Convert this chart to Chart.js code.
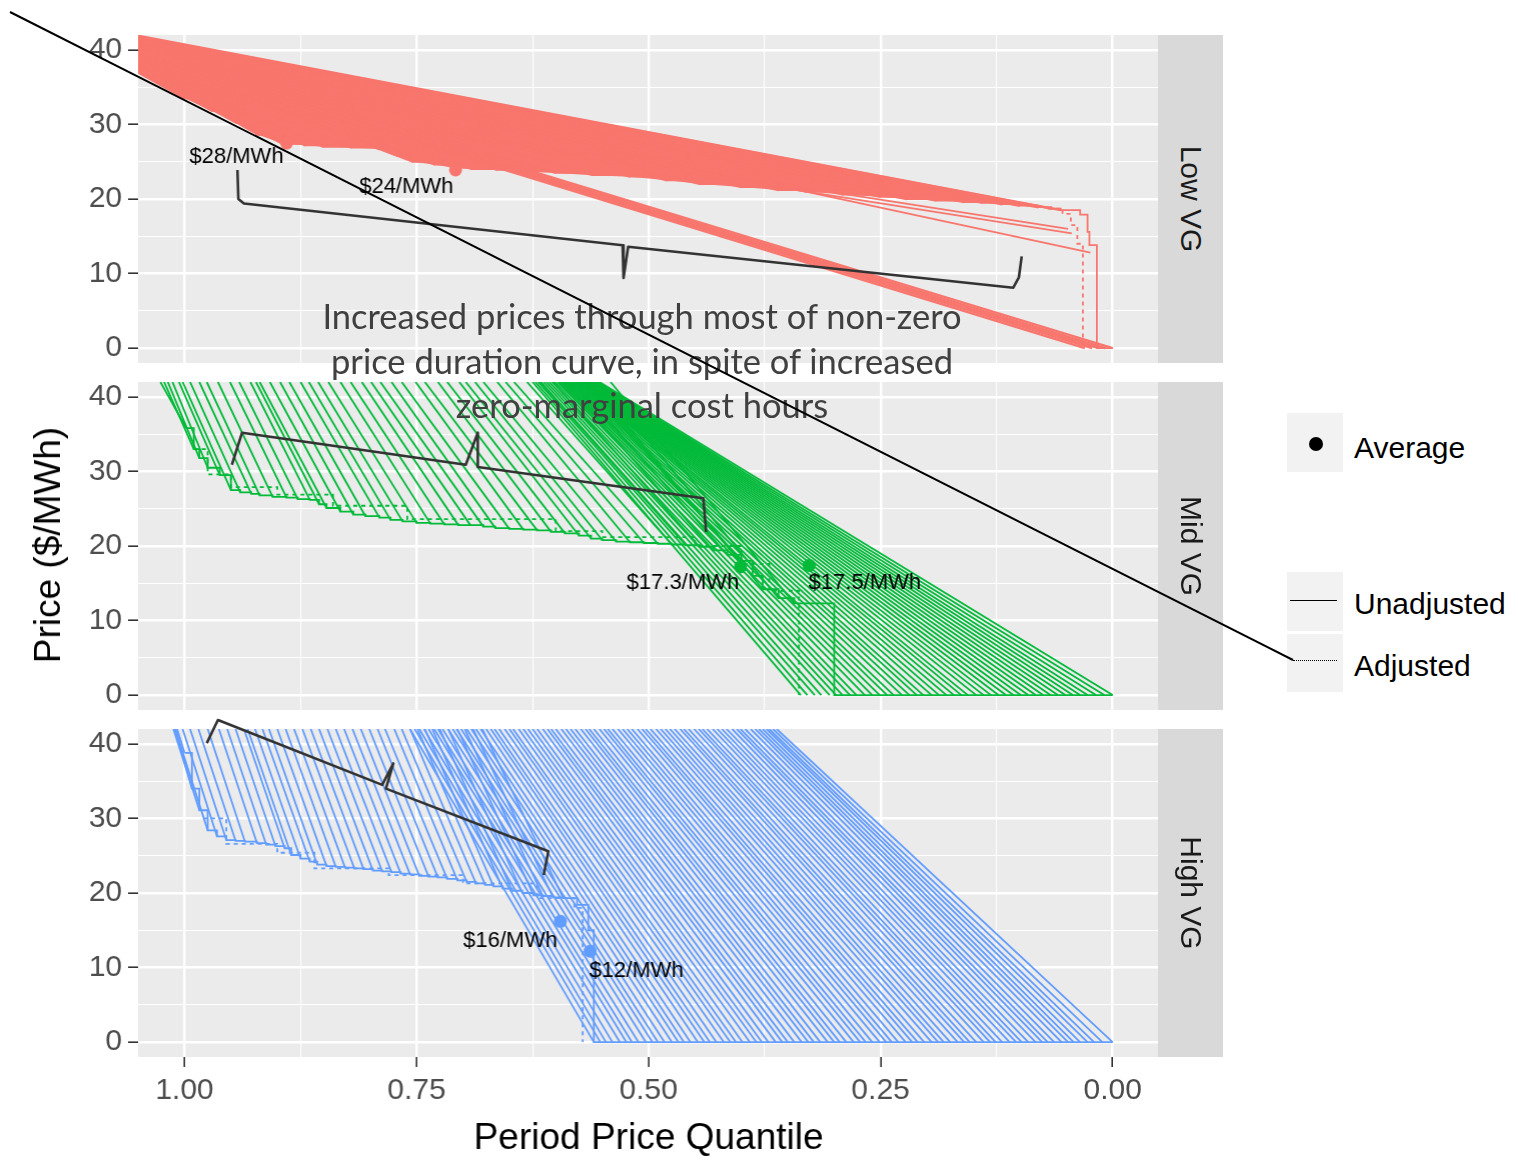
<!DOCTYPE html>
<html>
<head>
<meta charset="utf-8">
<script src="https://cdn.jsdelivr.net/npm/chart.js@4.4.1/dist/chart.umd.min.js"></script>
<style>
  body { margin: 0; background: #fff; width: 1518px; height: 1160px; position: relative; overflow: hidden;
         font-family: "Liberation Sans", Arial, sans-serif; }
  .wrap { position: absolute; left: 0; top: 0; width: 1158px; height: 420px; }
  .strip { position: absolute; left: 1158px; width: 65px; background: #D9D9D9; }
  .strip span { position: absolute; left: 50%; top: 50%; transform: translate(-50%, -50%) rotate(90deg);
                white-space: nowrap; font-size: 30px; color: #1A1A1A; }
  #ytitle { position: absolute; left: 48px; top: 545px; transform: translate(-50%, -50%) rotate(-90deg);
            white-space: nowrap; font-size: 37px; color: #000; }
  .key { position: absolute; left: 1287px; width: 56px; background: #F2F2F2; }
  .ltxt { position: absolute; left: 1354px; font-size: 30px; color: #000; transform: translateY(-50%); white-space: nowrap; }
  #note { position: absolute; left: 142px; top: 294px; width: 1000px; text-align: center; font-family: Lato, "Open Sans", sans-serif;
          font-size: 34.5px; line-height: 44.5px; color: #404040; z-index: 5; }
  #callout { position: absolute; left: 0; top: 0; z-index: 6; pointer-events: none; }
</style>
</head>
<body>
<div id="p0" class="wrap"><canvas></canvas></div>
<div id="p1" class="wrap"><canvas></canvas></div>
<div id="p2" class="wrap"><canvas></canvas></div>
<div id="ytitle">Price ($/MWh)</div>

<div class="key" style="top:413px;height:59px"></div>
<div style="position:absolute;left:1309px;top:437px;width:14px;height:14px;border-radius:50%;background:#000"></div>
<div class="ltxt" style="top:448px">Average</div>
<div class="key" style="top:572px;height:59px"></div>
<div style="position:absolute;left:1290px;top:600px;width:47px;border-top:1.6px solid #000"></div>
<div class="ltxt" style="top:604px">Unadjusted</div>
<div class="key" style="top:634px;height:58px"></div>
<div style="position:absolute;left:1293px;top:660px;width:44px;border-top:1.6px dotted #000"></div>
<div class="ltxt" style="top:666px">Adjusted</div>

<div id="note">Increased prices through most of non-zero<br>price duration curve, in spite of increased<br>zero-marginal cost hours</div>
<svg id="callout" width="1518" height="1160"><line x1="10" y1="12" x2="1293" y2="660" stroke="#000" stroke-width="2"/></svg>

<script>
// ---- axes / facets ----
const xTickValues = [0, 0.125, 0.25, 0.375, 0.5, 0.625, 0.75, 0.875, 1];
const yTickValues = [0, 5, 10, 15, 20, 25, 30, 35, 40];
const panelNames = ['Low VG', 'Mid VG', 'High VG'];
const panelColors = ['#F8766D', '#00BA38', '#619CFF'];
const PRICE_TOP = 42;     // price where the curves leave the top of a facet
const LOW_FAN_X0 = 1.05;  // quantile where the Low VG curves enter on the left

// ---- Low VG ----
const lowFanStartY = [37.0,37.3,37.6,37.8,38.0,38.3,38.5,38.7,38.9,39.1,39.3,39.5,39.6,39.8,39.9,40.0,40.2,40.3,40.4,40.6,
                      40.7,40.8,40.9,41.0,41.1,41.2,41.3,41.4,41.45,41.5,41.6,41.65,41.7,41.8,41.9];
const lowFanEndX = [1.0,0.97,0.944,0.92,0.894,0.87,0.85,0.82,0.79,0.77,0.754,0.73,0.71,0.69,0.663,0.63,0.60,0.56,0.52,0.48,
                    0.444,0.40,0.36,0.33,0.29,0.25,0.222,0.19,0.16,0.14,0.119,0.10,0.08,0.066,0.056];
const lowFanEndY = [33.5,31.8,30.2,28.6,27.4,27.2,27.0,26.9,26.7,25.8,25.0,24.6,24.2,24.0,23.9,23.7,23.5,23.2,23.0,22.5,
                    22.0,21.6,21.2,21.0,20.6,20.3,20.0,19.8,19.6,19.5,19.3,19.1,18.9,18.7,18.5];
const lowBundleStartY = [39.0, 39.2, 39.4, 39.6, 39.8];
const lowBundleEndX = [0.030, 0.022, 0.015, 0.008, 0.0];
const lowThinStartX = [0.75, 0.75, 0.75];
const lowThinStartY = [29.6, 29.2, 32.2];
const lowThinEndX = [0.048, 0.044, 0.024];
const lowThinEndY = [16.0, 15.4, 12.8];
const lowTailX = [0.035, 0.027, 0.025, 0.017, 0.017, 0.0];
const lowTailY = [17.9, 15.6, 13.8, 12.6, 0, 0];
const lowAdjX = [0.07, 0.054, 0.045, 0.038, 0.032, 0.032];
const lowAdjY = [18.7, 18.0, 16.5, 14.0, 13.2, 0];
const lowAvgX = [0.89, 0.708];
const lowAvgY = [27.5, 23.9];
const lowLabels = ['$28/MWh', '$24/MWh'];
const lowLabelX = [0.944, 0.761];
const lowLabelY = [25.6, 21.6];
const lowBraceX = [0.943, 0.942, 0.936, 0.528, 0.527, 0.522, 0.107, 0.101, 0.098];
const lowBraceY = [23.9, 20.0, 19.4, 13.8, 9.4, 13.6, 8.1, 9.5, 12.3];

// ---- Mid VG ----
const midPlateauTop = [1.026,1.022,1.018,1.013,1.006,1.002,0.994,0.984,0.976,0.964,0.951,0.941,0.929,0.923,0.919,0.908,0.897,
                       0.887,0.875,0.866,0.856,0.845,0.832,0.821,0.809,0.799,0.789,0.777,0.766,0.751,0.741,0.727,0.717,0.704,
                       0.697,0.687,0.678,0.663,0.654,0.645,0.631,0.617,0.603,0.591,0.581,0.571,0.566,0.562,0.553,0.541];
const midPlateauEndX = [0.998,0.990,0.984,0.975,0.962,0.950,0.940,0.928,0.919,0.905,0.890,0.878,0.865,0.855,0.847,0.832,0.818,
                        0.805,0.790,0.778,0.765,0.750,0.735,0.720,0.705,0.692,0.678,0.665,0.650,0.635,0.620,0.605,0.590,0.575,
                        0.562,0.550,0.535,0.520,0.505,0.490,0.475,0.460,0.445,0.430,0.415,0.400,0.388,0.377,0.360,0.343];
const midPlateauEndY = [35.8,33.0,31.8,30.5,29.5,27.5,27.2,27.0,26.8,26.6,26.5,26.3,26.2,25.6,25.1,24.6,24.2,
                        24.0,23.8,23.5,23.3,23.1,23.0,22.9,22.8,22.8,22.6,22.4,22.3,22.2,22.1,21.9,21.7,21.4,
                        21.0,20.8,20.6,20.5,20.4,20.3,20.2,20.1,19.9,19.4,18.8,18.0,16.0,14.2,13.0,12.3];
const midZeroTop = [0.625,0.622,0.619,0.616,0.613,0.610,0.607,0.604,0.601,0.598,0.596,0.594,0.592,0.590,0.588,0.586,0.584,
                    0.582,0.580,0.578,0.576,0.575,0.574,0.573,0.572,0.571,0.570,0.569,0.568,0.567,0.566,0.565,0.564,0.563,
                    0.562,0.561,0.560,0.559,0.558,0.557,0.556,0.555,0.553];
const midZeroEnd = [0.336,0.329,0.321,0.314,0.305,0.298,0.291,0.283,0.276,0.267,0.259,0.251,0.243,0.236,0.227,0.219,0.211,
                    0.204,0.195,0.187,0.179,0.171,0.163,0.156,0.147,0.139,0.131,0.123,0.115,0.107,0.099,0.091,0.083,0.075,
                    0.067,0.059,0.051,0.043,0.035,0.027,0.018,0.009,0.0];
const midTailX = [0.30, 0.30, 0.0];
const midTailY = [12.3, 0, 0];
const midAdjX = [0.99, 0.975, 0.95, 0.90, 0.84, 0.76, 0.60, 0.55, 0.45, 0.40, 0.37, 0.338, 0.338];
const midAdjY = [33.0, 29.6, 27.9, 26.9, 25.4, 23.6, 22.0, 21.2, 20.0, 17.6, 14.0, 9.7, 0];
const midAvgX = [0.401, 0.327];
const midAvgY = [17.2, 17.4];
const midLabels = ['$17.3/MWh', '$17.5/MWh'];
const midLabelX = [0.463, 0.267];
const midLabelY = [15.0, 15.0];
const midBraceX = [0.949, 0.938, 0.697, 0.684, 0.684, 0.441, 0.438];
const midBraceY = [30.9, 35.2, 30.9, 35.2, 30.6, 26.4, 21.9];

// ---- High VG ----
const highPlateauTop = [1.008,1.010,1.012,1.010,1.002,0.994,0.985,0.975,0.963,0.954,0.945,0.936,0.932,0.924,0.916,0.909,0.900,
                        0.891,0.882,0.873,0.864,0.855,0.846,0.837,0.828,0.819,0.810,0.801,0.792,0.784,0.774,0.766,0.757,0.749,
                        0.741,0.733,0.725,0.716,0.706,0.698,0.689,0.679];
const highPlateauEndX = [1.000,0.992,0.984,0.975,0.965,0.955,0.945,0.935,0.922,0.912,0.902,0.892,0.885,0.875,0.865,0.857,0.847,
                         0.837,0.827,0.817,0.807,0.797,0.787,0.777,0.767,0.757,0.747,0.737,0.727,0.717,0.706,0.696,0.686,0.676,
                         0.667,0.657,0.647,0.636,0.624,0.614,0.603,0.592];
const highPlateauEndY = [38.8,34.0,31.1,28.4,27.6,27.1,27.0,26.9,26.7,26.5,26.3,26.0,25.1,24.6,24.2,23.8,23.6,
                         23.5,23.4,23.3,23.2,23.0,22.9,22.8,22.6,22.5,22.3,22.2,22.1,21.9,21.7,21.5,21.3,21.1,
                         20.9,20.6,20.3,20.0,19.7,19.6,19.4,19.3];
const highZeroTop = [0.757,0.752,0.747,0.742,0.737,0.731,0.727,0.722,0.716,0.711,0.707,0.702,0.696,0.691,0.686,0.681,0.675,0.670,
                     0.666,0.661,0.655,0.650,0.646,0.640,0.635,0.630,0.625,0.620,0.614,0.609,0.605,0.600,0.594,0.589,0.584,0.579,
                     0.573,0.568,0.564,0.559,0.553,0.548,0.544,0.539,0.533,0.528,0.523,0.518,0.512,0.507,0.503,0.498,0.492,0.487,
                     0.482,0.477,0.472,0.466,0.462,0.457,0.451,0.446,0.442,0.437,0.431,0.426,0.421,0.416,0.410,0.405,0.401,0.396,
                     0.390,0.385,0.381,0.377,0.373,0.370,0.366,0.362];
const highZeroEnd = [0.559,0.552,0.546,0.539,0.531,0.524,0.518,0.511,0.503,0.496,0.490,0.483,0.475,0.468,0.462,0.455,0.447,0.440,
                     0.434,0.427,0.419,0.412,0.406,0.399,0.391,0.384,0.378,0.371,0.363,0.356,0.350,0.343,0.335,0.328,0.322,0.315,
                     0.307,0.300,0.294,0.287,0.279,0.272,0.266,0.259,0.251,0.244,0.238,0.231,0.223,0.216,0.210,0.203,0.195,0.188,
                     0.182,0.175,0.167,0.160,0.154,0.147,0.139,0.132,0.126,0.119,0.111,0.104,0.098,0.091,0.083,0.076,0.070,0.063,
                     0.055,0.048,0.042,0.035,0.027,0.020,0.011,0.0];
const highTailX = [0.577, 0.565, 0.559, 0.559, 0.0];
const highTailY = [18.4, 15.0, 12.2, 0, 0];
const highAdjX = [0.98, 0.955, 0.90, 0.86, 0.78, 0.70, 0.62, 0.58, 0.571, 0.571];
const highAdjY = [30.0, 26.6, 25.4, 23.3, 22.4, 21.3, 19.3, 18.0, 17.0, 0];
const highAvgX = [0.595, 0.563];
const highAvgY = [16.2, 12.2];
const highLabels = ['$16/MWh', '$12/MWh'];
const highLabelX = [0.649, 0.513];
const highLabelY = [13.6, 9.5];
const highBraceX = [0.976, 0.964, 0.787, 0.775, 0.783, 0.608, 0.613];
const highBraceY = [40.1, 43.2, 34.5, 37.4, 34.0, 25.6, 22.4];

// ---- layout ----
const PANEL_TOPS = [35, 382, 729];
const PANEL_H = 328;
const PANEL_LEFT = 138;
const PANEL_W = 1020;
const FONT = '"Liberation Sans", Arial, sans-serif';

const isMajorX = v => Math.abs(v * 4 - Math.round(v * 4)) < 1e-9;
const isMajorY = v => v % 10 === 0;

function seg(x0, y0, x1, y1, color, width) {
    return { data: [{ x: x0, y: y0 }, { x: x1, y: y1 }], showLine: true, borderColor: color,
             borderWidth: width || 1.8, pointRadius: 0, order: 3 };
}

function path(xs, ys, color, opts) {
    return Object.assign({ data: xs.map((x, i) => ({ x: x, y: ys[i] })), showLine: true, borderColor: color,
                           borderWidth: 1.8, pointRadius: 0, order: 2 }, opts || {});
}

function dots(xs, ys, color) {
    return { data: xs.map((x, i) => ({ x: x, y: ys[i] })), showLine: false, pointRadius: 6.5,
             pointBackgroundColor: color, pointBorderWidth: 0, order: 1 };
}

function brace(xs, ys) {
    return path(xs, ys, '#333333', { borderWidth: 2.6, order: 0, clip: false, borderJoinStyle: 'round' });
}

const panelBg = {
    id: 'panelBg',
    beforeDraw(chart) {
        const { ctx, chartArea: a } = chart;
        ctx.save();
        ctx.fillStyle = '#EBEBEB';
        ctx.fillRect(a.left, a.top, a.right - a.left, a.bottom - a.top);
        ctx.restore();
    }
};

function labelPlugin(texts, xs, ys) {
    return {
        id: 'priceLabels',
        afterDatasetsDraw(chart) {
            const { ctx, scales } = chart;
            ctx.save();
            ctx.font = '22px ' + FONT;
            ctx.fillStyle = '#000';
            ctx.textAlign = 'center';
            ctx.textBaseline = 'middle';
            texts.forEach((t, i) => ctx.fillText(t, scales.x.getPixelForValue(xs[i]), scales.y.getPixelForValue(ys[i])));
            ctx.restore();
        }
    };
}

function makePanel(idx, datasets, labels, showX) {
    const wrap = document.getElementById('p' + idx);
    const chart = new Chart(wrap.querySelector('canvas'), {
        type: 'scatter',
        data: { datasets: datasets },
        options: {
            responsive: true, maintainAspectRatio: false, animation: false, events: [], devicePixelRatio: 1,
            layout: { padding: 0 },
            elements: { line: { tension: 0 } },
            plugins: { legend: { display: false }, tooltip: { enabled: false } },
            scales: {
                x: {
                    type: 'linear', min: -0.05, max: 1.05, reverse: true,
                    afterBuildTicks: s => { s.ticks = xTickValues.map(v => ({ value: v })); },
                    afterFit: s => { if (!showX) s.height = 0; },
                    border: { display: false },
                    grid: {
                        color: '#FFFFFF', lineWidth: c => isMajorX(c.tick.value) ? 2.4 : 1.1,
                        drawTicks: showX, tickLength: 10, tickWidth: 1.6,
                        tickColor: c => isMajorX(c.tick.value) ? '#333333' : 'rgba(0,0,0,0)'
                    },
                    ticks: {
                        display: showX, autoSkip: false, maxRotation: 0, padding: 6, color: '#4D4D4D',
                        font: { size: 30, family: FONT }, callback: v => isMajorX(v) ? v.toFixed(2) : ''
                    },
                    title: { display: showX, text: 'Period Price Quantile', color: '#000',
                             font: { size: 37, family: FONT }, padding: { top: 2, bottom: 0 } }
                },
                y: {
                    type: 'linear', min: -2, max: 42,
                    afterBuildTicks: s => { s.ticks = yTickValues.map(v => ({ value: v })); },
                    afterFit: s => { s.width = 138; },
                    border: { display: false },
                    grid: {
                        color: '#FFFFFF', lineWidth: c => isMajorY(c.tick.value) ? 2.4 : 1.1,
                        tickLength: 10, tickWidth: 1.6,
                        tickColor: c => isMajorY(c.tick.value) ? '#333333' : 'rgba(0,0,0,0)'
                    },
                    ticks: {
                        autoSkip: false, padding: 6, color: '#4D4D4D', font: { size: 30, family: FONT },
                        callback: v => isMajorY(v) ? String(v) : ''
                    }
                }
            }
        },
        plugins: [panelBg, labels]
    });
    // line the plotting area up with the facet position
    let a = chart.chartArea;
    const extraH = chart.height - (a.bottom - a.top);
    const extraW = chart.width - (a.right - a.left);
    wrap.style.height = (PANEL_H + extraH) + 'px';
    wrap.style.width = (PANEL_W + extraW) + 'px';
    chart.resize();
    a = chart.chartArea;
    wrap.style.top = (PANEL_TOPS[idx] - a.top) + 'px';
    wrap.style.left = (PANEL_LEFT - a.left) + 'px';

    const strip = document.createElement('div');
    strip.className = 'strip';
    strip.style.top = PANEL_TOPS[idx] + 'px';
    strip.style.height = PANEL_H + 'px';
    strip.innerHTML = '<span>' + panelNames[idx] + '</span>';
    document.body.appendChild(strip);
    return chart;
}

// Low VG
(function () {
    const c = panelColors[0];
    const last = lowFanStartY.length - 1;
    // the overlapping Low VG curves merge into one solid band
    const bandX = [LOW_FAN_X0, LOW_FAN_X0].concat(lowFanEndX.slice().reverse());
    const bandY = [lowFanStartY[0], lowFanStartY[last]].concat(lowFanEndY.slice().reverse());
    const ds = [brace(lowBraceX, lowBraceY), dots(lowAvgX, lowAvgY, c),
        path(lowFanEndX.concat(lowTailX), lowFanEndY.concat(lowTailY), c, { stepped: true }),
        path(lowAdjX, lowAdjY, c, { stepped: true, borderDash: [4, 4] }),
        path(bandX, bandY, c, { borderWidth: 0, fill: 'shape', backgroundColor: c, order: 4 })];
    lowFanStartY.forEach((y, i) => ds.push(seg(LOW_FAN_X0, y, lowFanEndX[i], lowFanEndY[i], c, 2.4)));
    lowBundleStartY.forEach((y, i) => ds.push(seg(LOW_FAN_X0, y, lowBundleEndX[i], 0, c, 2.2)));
    lowThinStartX.forEach((x, i) => ds.push(seg(x, lowThinStartY[i], lowThinEndX[i], lowThinEndY[i], c)));
    makePanel(0, ds, labelPlugin(lowLabels, lowLabelX, lowLabelY), false);
})();

// Mid VG
(function () {
    const c = panelColors[1];
    const ds = [brace(midBraceX, midBraceY), dots(midAvgX, midAvgY, c),
        path(midPlateauEndX.concat(midTailX), midPlateauEndY.concat(midTailY), c, { stepped: true }),
        path(midAdjX, midAdjY, c, { stepped: true, borderDash: [4, 4] })];
    midPlateauTop.forEach((t, i) => ds.push(seg(t, PRICE_TOP, midPlateauEndX[i], midPlateauEndY[i], c)));
    midZeroTop.forEach((t, i) => ds.push(seg(t, PRICE_TOP, midZeroEnd[i], 0, c)));
    makePanel(1, ds, labelPlugin(midLabels, midLabelX, midLabelY), false);
})();

// High VG
(function () {
    const c = panelColors[2];
    const ds = [brace(highBraceX, highBraceY), dots(highAvgX, highAvgY, c),
        path(highPlateauEndX.concat(highTailX), highPlateauEndY.concat(highTailY), c, { stepped: true }),
        path(highAdjX, highAdjY, c, { stepped: true, borderDash: [4, 4] })];
    highPlateauTop.forEach((t, i) => ds.push(seg(t, PRICE_TOP, highPlateauEndX[i], highPlateauEndY[i], c)));
    highZeroTop.forEach((t, i) => ds.push(seg(t, PRICE_TOP, highZeroEnd[i], 0, c)));
    makePanel(2, ds, labelPlugin(highLabels, highLabelX, highLabelY), true);
})();
</script>
</body>
</html>
